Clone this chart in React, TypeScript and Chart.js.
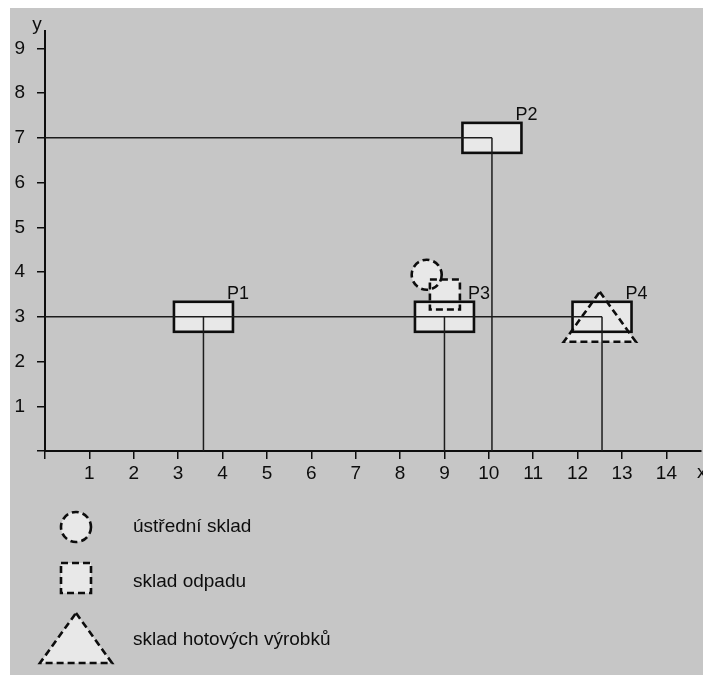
import React, { useEffect, useRef } from "react";
import { Chart, registerables } from "chart.js";

Chart.register(...registerables);

// ---- data ----
const plantNames = ["P1", "P2", "P3", "P4"];
const plantX = [3.57, 10.07, 9.0, 12.55];
const plantY = [3, 7, 3, 3];
const guidePlants = [1, 3]; // horizontal guide lines from the y axis to these plants

const xTickValues = [0, 1, 2, 3, 4, 5, 6, 7, 8, 9, 10, 11, 12, 13, 14];
const yTickValues = [0, 1, 2, 3, 4, 5, 6, 7, 8, 9];
const xMax = 14.78;
const yMax = 9.38;

const storageNames = ["ústřední sklad", "sklad odpadu", "sklad hotových výrobků"];
const storageShapes = ["circle", "square", "triangle"];
const storageX = [8.6, 9.01, 12.5];
const storageY = [3.94, 3.5, 3.0];

// ---- styles ----
const BG = "#c6c6c6";
const FILL = "#e8e8e8";
const INK = "#0d0d0d";
const FONT = "'Liberation Sans', Arial, Helvetica, sans-serif";

function shapePath(ctx: CanvasRenderingContext2D, shape: string, cx: number, cy: number, s: number) {
  ctx.beginPath();
  if (shape === "circle") {
    ctx.arc(cx, cy, 15 * s, 0, Math.PI * 2);
  } else if (shape === "square") {
    ctx.rect(cx - 15 * s, cy - 15 * s, 30 * s, 30 * s);
  } else {
    ctx.moveTo(cx, cy - 25 * s);
    ctx.lineTo(cx + 36 * s, cy + 25 * s);
    ctx.lineTo(cx - 36 * s, cy + 25 * s);
    ctx.closePath();
  }
}

function fillShape(ctx: CanvasRenderingContext2D, shape: string, cx: number, cy: number, s = 1) {
  ctx.save();
  shapePath(ctx, shape, cx, cy, s);
  ctx.fillStyle = FILL;
  ctx.fill();
  ctx.restore();
}

function strokeShape(ctx: CanvasRenderingContext2D, shape: string, cx: number, cy: number, s = 1) {
  ctx.save();
  shapePath(ctx, shape, cx, cy, s);
  ctx.setLineDash([7, 4]);
  ctx.lineWidth = 2.6;
  ctx.strokeStyle = INK;
  ctx.stroke();
  ctx.restore();
}

const BW = 29.5;
const BH = 15;

const diagramPlugin = {
  id: "diagram",
  beforeDraw(chart: any) {
    const ctx = chart.ctx as CanvasRenderingContext2D;
    ctx.save();
    ctx.fillStyle = BG;
    ctx.fillRect(0, 0, chart.width, chart.height);
    ctx.restore();
  },
  beforeDatasetsDraw(chart: any) {
    const ctx = chart.ctx as CanvasRenderingContext2D;
    const xs = chart.scales.x;
    const ys = chart.scales.y;
    storageShapes.forEach((sh, i) => {
      fillShape(ctx, sh, xs.getPixelForValue(storageX[i]), ys.getPixelForValue(storageY[i]));
    });
    plantNames.forEach((_, i) => {
      const cx = xs.getPixelForValue(plantX[i]);
      const cy = ys.getPixelForValue(plantY[i]);
      ctx.save();
      ctx.fillStyle = FILL;
      ctx.fillRect(cx - BW, cy - BH, BW * 2, BH * 2);
      ctx.lineWidth = 2.6;
      ctx.strokeStyle = INK;
      ctx.strokeRect(cx - BW, cy - BH, BW * 2, BH * 2);
      ctx.restore();
    });
  },
  afterDatasetsDraw(chart: any) {
    const ctx = chart.ctx as CanvasRenderingContext2D;
    const xs = chart.scales.x;
    const ys = chart.scales.y;
    storageShapes.forEach((sh, i) => {
      strokeShape(ctx, sh, xs.getPixelForValue(storageX[i]), ys.getPixelForValue(storageY[i]));
    });
    ctx.save();
    ctx.fillStyle = INK;
    ctx.textBaseline = "alphabetic";
    ctx.textAlign = "left";
    ctx.font = `18px ${FONT}`;
    plantNames.forEach((name, i) => {
      const cx = xs.getPixelForValue(plantX[i]);
      const cy = ys.getPixelForValue(plantY[i]);
      ctx.fillText(name, cx + BW - 6, cy - BH - 3);
    });
    // axis names
    ctx.font = `19px ${FONT}`;
    ctx.textAlign = "center";
    ctx.fillText("y", chart.chartArea.left - 8, chart.chartArea.top - 1);
    ctx.textAlign = "left";
    ctx.fillText("x", chart.chartArea.right - 4, chart.chartArea.bottom + 27);
    // legend
    const lx = 66;
    const ly = [519, 570, 630];
    const tb = [524, 579, 637];
    storageShapes.forEach((sh, i) => {
      fillShape(ctx, sh, lx, ly[i]);
      strokeShape(ctx, sh, lx, ly[i]);
    });
    ctx.fillStyle = INK;
    ctx.font = `19px ${FONT}`;
    storageNames.forEach((name, i) => {
      ctx.fillText(name, 123, tb[i]);
    });
    ctx.restore();
  },
};

export default function App() {
  const ref = useRef<HTMLCanvasElement>(null);
  useEffect(() => {
    if (!ref.current) return;
    const lineStyle = {
      showLine: true,
      pointRadius: 0,
      borderColor: "#1c1c1c",
      borderWidth: 1.5,
      fill: false,
    };
    const datasets: any[] = [];
    guidePlants.forEach((i) => {
      datasets.push({
        ...lineStyle,
        label: "guide " + plantNames[i],
        data: [
          { x: 0, y: plantY[i] },
          { x: plantX[i], y: plantY[i] },
        ],
      });
    });
    plantNames.forEach((name, i) => {
      datasets.push({
        ...lineStyle,
        label: "drop " + name,
        data: [
          { x: plantX[i], y: plantY[i] },
          { x: plantX[i], y: 0 },
        ],
      });
    });
    const tickFont = { family: FONT, size: 19 };
    const chart = new Chart(ref.current, {
      type: "scatter",
      data: { datasets },
      options: {
        animation: false,
        responsive: false,
        devicePixelRatio: 1,
        layout: { padding: { top: 19, right: 2, left: 0, bottom: 0 } },
        plugins: { legend: { display: false }, tooltip: { enabled: false } },
        scales: {
          x: {
            type: "linear",
            min: 0,
            max: xMax,
            afterBuildTicks: (s: any) => {
              s.ticks = xTickValues.map((v) => ({ value: v }));
            },
            afterFit: (s: any) => {
              s.height = 224;
            },
            border: { display: true, color: INK, width: 2 },
            grid: { display: true, drawOnChartArea: false, drawTicks: true, tickLength: 8, color: INK, lineWidth: 1.5 },
            ticks: {
              color: INK,
              font: tickFont,
              padding: 3,
              maxRotation: 0,
              autoSkip: false,
              callback: (v: any) => (v === 0 ? "" : String(v)),
            },
          },
          y: {
            type: "linear",
            min: 0,
            max: yMax,
            afterBuildTicks: (s: any) => {
              s.ticks = yTickValues.map((v) => ({ value: v }));
            },
            afterFit: (s: any) => {
              s.width = 35;
            },
            border: { display: true, color: INK, width: 2 },
            grid: { display: true, drawOnChartArea: false, drawTicks: true, tickLength: 8, color: INK, lineWidth: 1.5 },
            ticks: {
              color: INK,
              font: tickFont,
              padding: 12,
              autoSkip: false,
              callback: (v: any) => (v === 0 ? "" : String(v)),
            },
          },
        },
      },
      plugins: [diagramPlugin],
    } as any);
    return () => chart.destroy();
  }, []);
  return (
    <canvas
      ref={ref}
      width={693}
      height={667}
      style={{ position: "absolute", left: 10, top: 8, display: "block" }}
    />
  );
}
